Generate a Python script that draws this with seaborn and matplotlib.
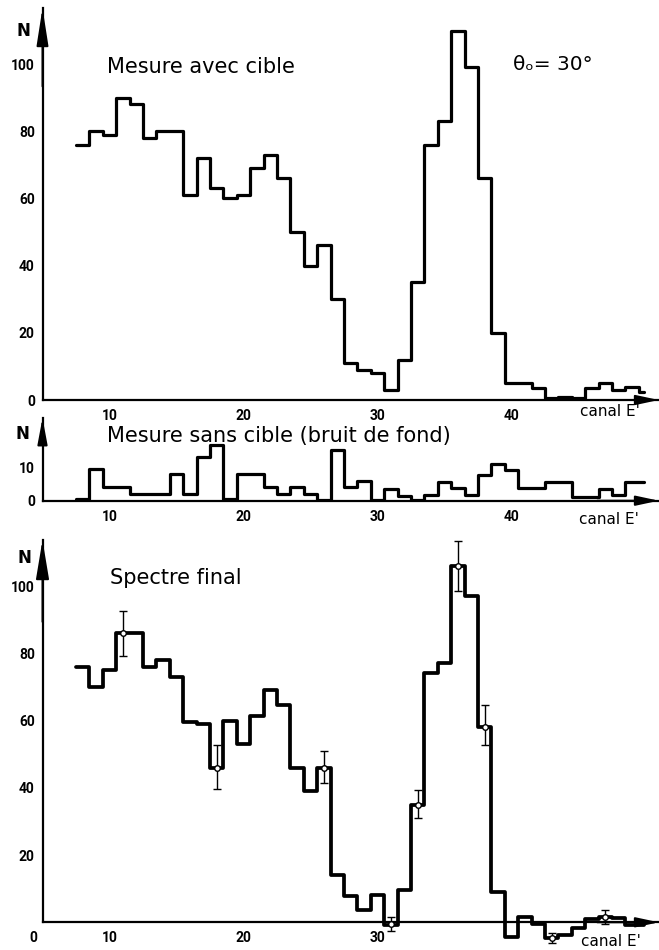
import numpy as np
import pandas as pd
import matplotlib
matplotlib.use("Agg")
import matplotlib.pyplot as plt
import seaborn as sns

# ---------------- data ----------------
channels = list(range(8, 51))

avec_cible = [76, 80, 79, 90, 88, 78, 80, 80, 61, 72, 63, 60, 61, 69, 73, 66,
              50, 40, 46, 30, 11, 9, 8, 3, 12, 35, 76, 83, 110, 99, 66, 20,
              5, 5, 3.5, 0.5, 1, 0.5, 3.5, 5, 3, 4, 2.5]

sans_cible = [0.5, 9.5, 4, 4, 2, 2, 2, 8, 2, 13, 16.5, 0.5, 8, 8, 4, 2,
              4, 2, 0.3, 15, 4, 6, 0.3, 3.5, 1.5, 0.2, 1.7, 5.5, 3.7, 1.7, 7.5, 11,
              9, 3.7, 3.7, 5.5, 5.5, 1.2, 1.2, 3.5, 1.7, 5.5, 5.5]

spectre_final = [76, 70, 75, 86, 86, 76, 78, 73, 59.5, 59, 46, 60, 53, 61.5, 69, 64.5,
                 46, 39, 46, 14, 7.7, 3.8, 8, -0.7, 9.7, 35, 74, 77, 106, 97, 58, 9,
                 -4.4, 1.6, -0.4, -4.7, -3.7, -1.7, 1, 1.6, 1.3, -0.7, -0.7]

err_channels = [11, 18, 26, 31, 33, 36, 38, 43, 47]
err_values = [86, 46, 46, -0.5, 35, 106, 58, -4.7, 1.6]
err_low = [79.2, 39.7, 41.5, -2.7, 31, 98.5, 52.6, -6.2, -0.4]
err_high = [92.6, 52.6, 50.8, 1.6, 39.3, 113.4, 64.5, -3.2, 3.8]

x_ticks = [10, 20, 30, 40]
x_ticklabels_top = ["10", "20", "30", "40"]
x_ticklabels_bottom = ["10", "20", "30", ""]
y_ticks_top = [0, 20, 40, 60, 80, 100]
y_ticks_mid = [0, 10]
y_ticks_bot = [20, 40, 60, 80, 100]

title_top = "Mesure avec cible"
title_mid = "Mesure sans cible (bruit de fond)"
title_bot = "Spectre final"
angle_label = "θₒ= 30°"
x_label = "canal E'"
y_label = "N"

# ---------------- figure ----------------
sns.set_theme(style="white")
plt.rcParams["font.family"] = ["DejaVu Sans"]

W, H = 659, 950
fig = plt.figure(figsize=(W / 100, H / 100), dpi=100)
fig.patch.set_facecolor("white")


def px_rect(left, top, right, bottom):
    return [left / W, 1 - bottom / H, (right - left) / W, (bottom - top) / H]


XMIN, XMAX = 5.0, 51.0
ax_top = fig.add_axes(px_rect(42.5, 8, 658.9, 400))
ax_mid = fig.add_axes(px_rect(42.5, 418, 658.9, 500.7))
ax_bot = fig.add_axes(px_rect(42.5, 540, 658.9, 949.2))


def step_frame(vals):
    edges = list(np.array(channels, dtype=float) - 0.5) + [channels[-1] - 0.1]
    heights = list(vals) + [vals[-1]]
    return pd.DataFrame({"canal": edges, "N": heights})


def style_axis(ax, ylim, yticks, xlabels, spine_at_zero=False):
    ax.set_xlim(XMIN, XMAX)
    ax.set_ylim(*ylim)
    for s in ["top", "right"]:
        ax.spines[s].set_visible(False)
    for s in ["left", "bottom"]:
        ax.spines[s].set_color("black")
        ax.spines[s].set_linewidth(1.6)
    if spine_at_zero:
        ax.spines["bottom"].set_position(("data", 0))
        ax.spines["left"].set_bounds(0, ylim[1])
    ax.set_xticks(x_ticks)
    ax.set_xticklabels(xlabels)
    ax.set_yticks(yticks)
    ax.set_yticklabels([str(t) for t in yticks])
    ax.tick_params(axis="both", which="major", direction="out", length=4,
                   width=1.3, color="black", labelsize=10, labelcolor="black")
    ax.tick_params(axis="y", pad=1.5)
    ax.tick_params(axis="x", pad=2.5)
    for lab in ax.get_xticklabels() + ax.get_yticklabels():
        lab.set_fontfamily("Roboto")
        lab.set_fontweight("bold")
    ax.set_xlabel("")
    ax.set_ylabel("")
    ax.patch.set_alpha(0)


def add_arrows(ax, ylen, ywid, xlen, xwid, y0=0.0):
    ytrans = ax.get_yaxis_transform()
    ax.annotate("", xy=(0, 1), xycoords="axes fraction", xytext=(0, 0.8),
                textcoords="axes fraction",
                arrowprops=dict(arrowstyle=f"-|>,head_length={ylen},head_width={ywid}",
                                color="black", lw=1.4, shrinkA=0, shrinkB=0,
                                mutation_scale=1))
    ax.annotate("", xy=(1, y0), xycoords=ax.get_yaxis_transform(), xytext=(0.9, y0),
                textcoords=ax.get_yaxis_transform(),
                arrowprops=dict(arrowstyle=f"-|>,head_length={xlen},head_width={xwid}",
                                color="black", lw=1.4, shrinkA=0, shrinkB=0,
                                mutation_scale=1))


# top panel
sns.lineplot(data=step_frame(avec_cible), x="canal", y="N", drawstyle="steps-post",
             estimator=None, sort=False, color="black", linewidth=2.3, ax=ax_top)
style_axis(ax_top, (0, 116.7), y_ticks_top, x_ticklabels_top)
add_arrows(ax_top, 23, 3.6, 14, 3.0)

# middle panel
sns.lineplot(data=step_frame(sans_cible), x="canal", y="N", drawstyle="steps-post",
             estimator=None, sort=False, color="black", linewidth=2.3, ax=ax_mid)
style_axis(ax_mid, (0, 24.6), y_ticks_mid, x_ticklabels_top)
add_arrows(ax_mid, 16, 3.0, 14, 3.0)

# bottom panel
sns.lineplot(data=step_frame(spectre_final), x="canal", y="N", drawstyle="steps-post",
             estimator=None, sort=False, color="black", linewidth=2.7, ax=ax_bot)
err_lo = np.array(err_values) - np.array(err_low)
err_hi = np.array(err_high) - np.array(err_values)
ax_bot.errorbar(err_channels, err_values, yerr=[err_lo, err_hi], fmt="o",
                color="black", ecolor="black", elinewidth=1.0, capsize=2.8,
                capthick=1.0, markersize=4, markerfacecolor="white",
                markeredgecolor="black", markeredgewidth=1.0, zorder=5)
style_axis(ax_bot, (-8, 113.7), y_ticks_bot, x_ticklabels_bottom, spine_at_zero=True)
add_arrows(ax_bot, 24, 4.0, 14, 3.0)


# ---------------- texts ----------------
def ftext(xp, yp, s, size, ha="left", weight="normal", family="DejaVu Sans"):
    fig.text(xp / W, 1 - yp / H, s, fontsize=size, ha=ha, va="center",
             fontweight=weight, family=family, color="black")


ftext(23, 31, y_label, 12, ha="center", weight="bold")
ftext(107, 67, title_top, 15)
ftext(513, 64, angle_label, 14.5)
ftext(580, 412, x_label, 11)

ftext(22, 434, y_label, 12, ha="center", weight="bold")
ftext(107, 436, title_mid, 15)
ftext(579, 520, x_label, 11)

ftext(24, 558, y_label, 12, ha="center", weight="bold")
ftext(110, 578, title_bot, 15)
ftext(581, 941, x_label, 11)
ftext(33, 938, "0", 10, ha="center", weight="bold", family="Roboto")

fig.savefig("out.png", dpi=100, facecolor="white")
